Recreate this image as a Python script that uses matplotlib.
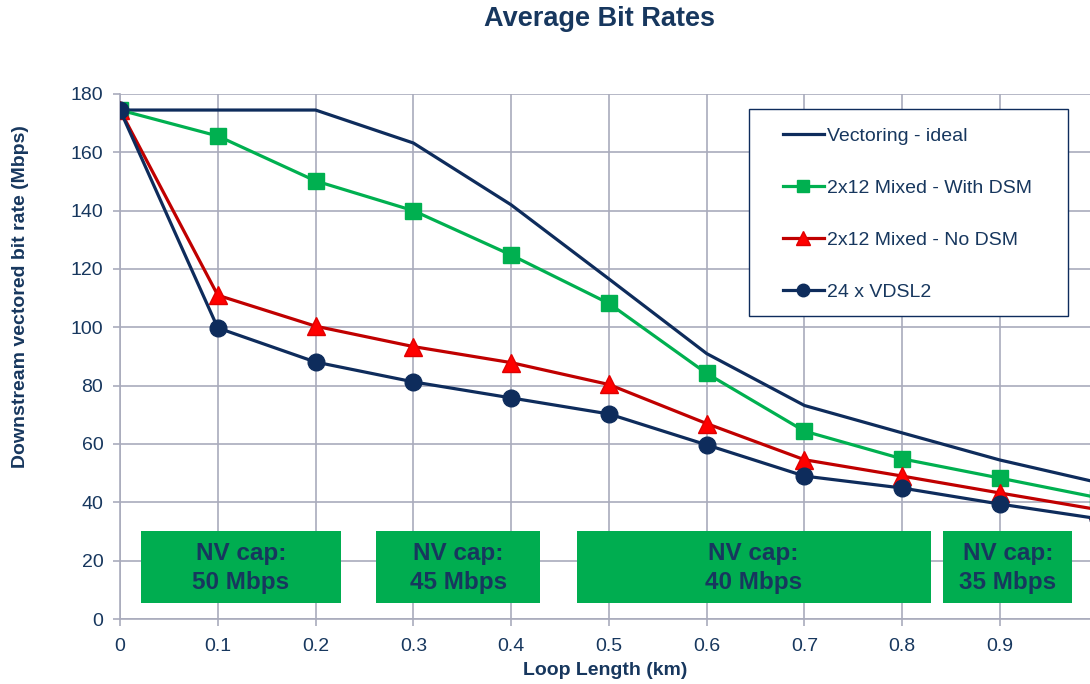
import matplotlib
matplotlib.use("Agg")
import matplotlib.pyplot as plt
from matplotlib.patches import Rectangle

plt.rcParams['font.family'] = ['Liberation Sans', 'DejaVu Sans']

# data
loop_km = [0, 0.1, 0.2, 0.3, 0.4, 0.5, 0.6, 0.7, 0.8, 0.9, 1.0]
vect_ideal = [174.5, 174.5, 174.5, 163.2, 142.0, 116.6, 91.0, 73.2, 63.8, 54.5, 46.8]
mixed_dsm = [174.5, 165.6, 150.2, 140.0, 124.8, 108.2, 84.2, 64.4, 54.9, 48.3, 41.6]
mixed_nodsm = [174.5, 111.0, 100.4, 93.4, 87.9, 80.4, 67.0, 54.6, 49.0, 43.2, 37.5]
vdsl2 = [174.5, 99.8, 88.1, 81.3, 75.8, 70.3, 59.7, 49.0, 44.9, 39.4, 34.4]

# NV cap boxes: (x start, x end)
cap_spans = [(0.021, 0.226), (0.262, 0.430), (0.467, 0.829), (0.842, 0.974)]
cap_labels = ['NV cap:\n50 Mbps', 'NV cap:\n45 Mbps', 'NV cap:\n40 Mbps', 'NV cap:\n35 Mbps']
cap_y = (5.5, 30.2)

navy = '#0E2C5C'
txt = '#17375E'
grid_c = '#A9ABBC'
W, H = 1090, 684

fig = plt.figure(figsize=(10.9, 6.84), dpi=100)
ax = fig.add_axes([120/W, 1 - 619/H, 1 - 120/W, (619 - 94)/H])

ax.plot(loop_km, vect_ideal, color=navy, lw=2.3, label='Vectoring - ideal', zorder=3)
ax.plot(loop_km, mixed_dsm, color='#00B050', lw=2.3, marker='s', ms=12,
        label='2x12 Mixed - With DSM', zorder=4)
ax.plot(loop_km, mixed_nodsm, color='#C00000', lw=2.3, marker='^', ms=13,
        mfc='#FF0000', mec='#E00000', label='2x12 Mixed - No DSM', zorder=5)
ax.plot(loop_km, vdsl2, color=navy, lw=2.3, marker='o', ms=12,
        label='24 x VDSL2', zorder=6)

for (x0, x1), lab in zip(cap_spans, cap_labels):
    ax.add_patch(Rectangle((x0, cap_y[0]), x1 - x0, cap_y[1] - cap_y[0],
                           facecolor='#00AD50', edgecolor='none', zorder=7))
    ax.text((x0 + x1) / 2, (cap_y[0] + cap_y[1]) / 2 - 0.4, lab, ha='center', va='center',
            fontsize=17.5, fontweight='bold', color=txt, linespacing=1.3, zorder=8)

ax.set_xlim(0, 0.992)
ax.set_ylim(0, 180)
ax.set_xticks([0, 0.1, 0.2, 0.3, 0.4, 0.5, 0.6, 0.7, 0.8, 0.9])
ax.set_xticklabels(['0', '0.1', '0.2', '0.3', '0.4', '0.5', '0.6', '0.7', '0.8', '0.9'])
ax.set_yticks(range(0, 181, 20))
ax.grid(True, color=grid_c, lw=1.2)
ax.set_axisbelow(True)
for s in ['top', 'right']:
    ax.spines[s].set_visible(False)
for s in ['left', 'bottom']:
    ax.spines[s].set_color(grid_c)
    ax.spines[s].set_linewidth(1.2)
ax.tick_params(colors=grid_c, labelcolor=txt, labelsize=14, length=5, width=1.2)
ax.tick_params(axis='x', pad=9)
ax.tick_params(axis='y', pad=7)

ax.set_xlabel('Loop Length (km)', fontsize=14, fontweight='bold', color=txt, labelpad=5)
fig.text(21/W, 1 - 297/H, 'Downstream vectored bit rate (Mbps)', rotation=90,
         ha='center', va='center', fontsize=14, fontweight='bold', color=txt)
fig.text(600/W, 1 - 19/H, 'Average Bit Rates', ha='center', va='center',
         fontsize=19.5, fontweight='bold', color=txt)

# legend frame drawn separately, legend itself without frame
fig.patches.append(Rectangle((749/W, 1 - 316/H), (1068 - 749)/W, (316 - 109)/H,
                             transform=fig.transFigure, facecolor='white',
                             edgecolor=navy, lw=1.0, zorder=9))
handles, labels = ax.get_legend_handles_labels()
leg = fig.legend(handles, labels, loc='upper left', bbox_to_anchor=(783/W, 1 - 127/H),
                 fontsize=14, labelcolor=txt,
                 handlelength=2.1, handletextpad=0.15, labelspacing=1.78,
                 borderpad=0, borderaxespad=0, frameon=False, markerscale=0.75)
leg.set_zorder(10)

fig.savefig('out.png', dpi=100)
